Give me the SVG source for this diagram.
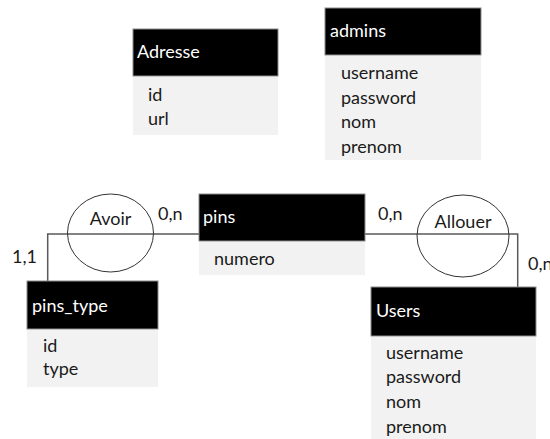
<svg xmlns="http://www.w3.org/2000/svg" width="550" height="439" viewBox="0 0 550 439">
<style>
text{font-family:Lato,"Liberation Sans",sans-serif;font-size:18px;fill:#1a1a1a}
.hd{fill:#000;stroke:#8c8c8c;stroke-width:1}
.bd{fill:#f2f2f2}
.ht{fill:#fff}
.ln{fill:none;stroke:#595959;stroke-width:1.5}
.el{fill:none;stroke:#333;stroke-width:1}
</style>
<rect width="550" height="439" fill="#fff"/>
<g id="connectors">
<path class="ln" d="M199,234 H47.7 V281"/>
<path class="ln" d="M365,234 H517.7 V287"/>
</g>
<g id="Avoir">
<ellipse class="el" cx="110.5" cy="233" rx="43" ry="39"/>
<text x="110.5" y="225" text-anchor="middle">Avoir</text>
</g>
<g id="Allouer">
<ellipse class="el" cx="463" cy="236" rx="46" ry="41"/>
<text x="463" y="228" text-anchor="middle">Allouer</text>
</g>
<g id="labels">
<text x="158" y="220">0,n</text>
<text x="12" y="263">1,1</text>
<text x="378" y="220">0,n</text>
<text x="528" y="270">0,n</text>
</g>
<g id="Adresse">
<rect class="bd" x="133" y="77" width="145" height="58"/>
<rect class="hd" x="133" y="29" width="145" height="47"/>
<text class="ht" x="137" y="58">Adresse</text>
<text x="148" y="101">id</text>
<text x="148" y="125">url</text>
</g>
<g id="admins">
<rect class="bd" x="325" y="56" width="156" height="104"/>
<rect class="hd" x="325" y="8" width="156" height="47"/>
<text class="ht" x="330" y="37">admins</text>
<text x="341" y="79">username</text>
<text x="341" y="104">password</text>
<text x="341" y="128">nom</text>
<text x="341" y="153">prenom</text>
</g>
<g id="pins">
<rect class="bd" x="199" y="242" width="166" height="33"/>
<rect class="hd" x="199" y="194" width="166" height="47"/>
<text class="ht" x="203" y="223">pins</text>
<text x="214" y="265">numero</text>
</g>
<g id="pins_type">
<rect class="bd" x="27" y="330" width="131" height="57"/>
<rect class="hd" x="27" y="281" width="131" height="48"/>
<text class="ht" x="32" y="312">pins_type</text>
<text x="43" y="352">id</text>
<text x="43" y="375">type</text>
</g>
<g id="Users">
<rect class="bd" x="371" y="337" width="165" height="102"/>
<rect class="hd" x="371" y="287" width="165" height="49"/>
<text class="ht" x="376" y="317">Users</text>
<text x="386" y="359">username</text>
<text x="386" y="383">password</text>
<text x="386" y="408">nom</text>
<text x="386" y="433">prenom</text>
</g>
</svg>
